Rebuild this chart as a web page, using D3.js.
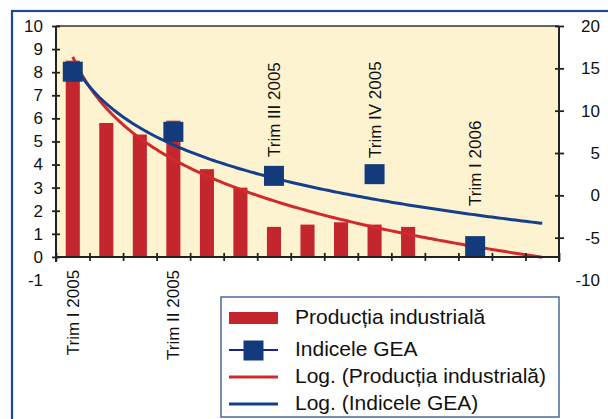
<!DOCTYPE html>
<html>
<head>
<meta charset="utf-8">
<script src="https://cdn.jsdelivr.net/npm/d3@7"></script>
<style>
  html, body { margin: 0; padding: 0; background: #fff; }
  svg { display: block; font-family: "Liberation Sans", Arial, sans-serif; }
  text { font-family: "Liberation Sans", Arial, sans-serif; }
</style>
</head>
<body>
<svg id="chart" width="608" height="419"></svg>
<script>
// ---- data ----
const categories = ["Trim I 2005", "", "", "Trim II 2005", "", "", "Trim III 2005", "", "",
                    "Trim IV 2005", "", "", "Trim I 2006", "", ""];
const productie = [8.5, 5.8, 5.3, 5.9, 3.8, 3.0, 1.3, 1.4, 1.5, 1.4, 1.3, null, null, null, null];
const gea = [14.6, null, null, 7.5, null, null, 2.3, null, null, 2.5, null, null, -6.0, null, null];
const leftTicks = [-1, 0, 1, 2, 3, 4, 5, 6, 7, 8, 9, 10];
const rightTicks = [-10, -5, 0, 5, 10, 15, 20];
const legendLabels = ["Producția industrială", "Indicele GEA", "Log. (Producția industrială)", "Log. (Indicele GEA)"];

// ---- colors ----
const cRed = "#c4262d", cRedLine = "#d02a2c", cNavy = "#133a7b", cBlueLine = "#143f8c";
const cCream = "#fef3d0", cFrame = "#1c4a8e";
const FONT = "'Liberation Sans', Arial, sans-serif";

const svg = d3.select("#chart");
const L = 56, R = 559, T = 26, B = 257;

// outer frame
svg.append("rect").attr("x", 12).attr("y", 11).attr("width", 620).attr("height", 430)
  .attr("fill", "none").attr("stroke", cFrame).attr("stroke-width", 2.2);

// scales
const x = d3.scaleBand().domain(d3.range(categories.length)).range([L, R]).padding(0);
const xb = d3.scaleLinear().domain([0, categories.length]).range([L, R]);
const yL = d3.scaleLinear().domain([-1, 10]).range([280, T]);
const yR = d3.scaleLinear().domain([-10, 20]).range([280, T]);
const cx = i => x(i) + x.bandwidth() / 2;
const fmt = d => String(d);

// plot background
svg.append("rect").attr("x", L).attr("y", T).attr("width", R - L).attr("height", yL(0) - T)
  .attr("fill", cCream);
svg.append("line").attr("x1", L).attr("x2", R).attr("y1", T).attr("y2", T)
  .attr("stroke", "#333").attr("stroke-width", 1.5);

// bars
const bw = x.bandwidth() * 0.42;
svg.append("g").selectAll("rect").data(productie.map((v, i) => ({v, i})).filter(d => d.v != null))
  .join("rect")
  .attr("x", d => cx(d.i) - bw / 2).attr("width", bw)
  .attr("y", d => yL(d.v)).attr("height", d => yL(0) - yL(d.v))
  .attr("fill", cRed);

// logarithmic trendlines (least squares y = a + b ln x, x = 1..n)
function logFit(vals) {
  const pts = vals.map((v, i) => [Math.log(i + 1), v]).filter(p => p[1] != null);
  const mx = d3.mean(pts, p => p[0]), my = d3.mean(pts, p => p[1]);
  const sxy = d3.sum(pts, p => (p[0] - mx) * (p[1] - my));
  const sxx = d3.sum(pts, p => (p[0] - mx) ** 2);
  const b = sxy / sxx, a = my - b * mx;
  return t => a + b * Math.log(t);
}
const fProd = logFit(productie), fGea = logFit(gea);
const tSamples = d3.range(1, categories.length + 0.001, 0.1);
const xt = t => cx(0) + (t - 1) * x.step();
svg.append("path").datum(tSamples)
  .attr("d", d3.line().x(t => xt(t)).y(t => yL(fProd(t))))
  .attr("fill", "none").attr("stroke", cRedLine).attr("stroke-width", 3);
svg.append("path").datum(tSamples)
  .attr("d", d3.line().x(t => xt(t)).y(t => yR(fGea(t))))
  .attr("fill", "none").attr("stroke", cBlueLine).attr("stroke-width", 3);

// GEA series (line with gaps + square markers)
svg.append("path").datum(gea.map((v, i) => ({v, i})))
  .attr("d", d3.line().defined(d => d.v != null).x(d => cx(d.i)).y(d => yR(d.v)))
  .attr("fill", "none").attr("stroke", cNavy).attr("stroke-width", 2);
const ms = 20;
svg.append("g").selectAll("rect").data(gea.map((v, i) => ({v, i})).filter(d => d.v != null))
  .join("rect")
  .attr("x", d => cx(d.i) - ms / 2).attr("y", d => yR(d.v) - ms / 2)
  .attr("width", ms).attr("height", ms).attr("fill", cNavy);

// x axis (ticks at category boundaries, crossing)
const gx = svg.append("g").attr("transform", `translate(0,${yL(0)})`)
  .call(d3.axisBottom(xb).tickValues(d3.range(0, categories.length + 1)).tickFormat("").tickSizeOuter(0));
gx.select(".domain").remove();
gx.selectAll(".tick line").attr("y1", -4).attr("y2", 4).attr("stroke", "#222").attr("stroke-width", 1.8);
svg.append("line").attr("x1", L).attr("x2", R).attr("y1", yL(0)).attr("y2", yL(0))
  .attr("stroke", "#222").attr("stroke-width", 2);

// left axis
const gl = svg.append("g").attr("transform", `translate(${L},0)`)
  .call(d3.axisLeft(yL).tickValues(leftTicks).tickFormat(fmt).tickSize(4).tickPadding(9));
gl.select(".domain").remove();
gl.selectAll(".tick line").attr("x1", 4).attr("x2", -4).attr("stroke", "#222").attr("stroke-width", 1.8)
  .filter(d => d < 0).remove();
gl.selectAll(".tick text").attr("font-size", 17).attr("fill", "#111").attr("font-family", FONT);
svg.append("line").attr("x1", L).attr("x2", L).attr("y1", T).attr("y2", yL(0) + 5)
  .attr("stroke", "#222").attr("stroke-width", 2);

// right axis
const gr = svg.append("g").attr("transform", `translate(${R},0)`)
  .call(d3.axisRight(yR).tickValues(rightTicks).tickFormat(fmt).tickSize(4).tickPadding(9));
gr.select(".domain").remove();
gr.selectAll(".tick line").attr("x1", -4).attr("x2", 5).attr("stroke", "#222").attr("stroke-width", 1.8)
  .filter(d => d < -7.5).remove();
gr.selectAll(".tick text").attr("font-size", 17).attr("fill", "#111")
  .attr("text-anchor", "end").attr("x", 41).attr("font-family", FONT);
svg.append("line").attr("x1", R).attr("x2", R).attr("y1", T).attr("y2", yL(0) + 5)
  .attr("stroke", "#222").attr("stroke-width", 2);

// category labels (vertical)
const below = [0, 3];
const inside = {6: 157, 9: 158, 12: 206};
categories.forEach((c, i) => {
  if (!c) return;
  const t = svg.append("text").attr("font-size", 17).attr("font-family", FONT).attr("fill", "#111").text(c);
  if (below.includes(i)) {
    t.attr("text-anchor", "end").attr("transform", `translate(${cx(i) + 6},${yL(0) + 13}) rotate(-90)`);
  } else if (inside[i] != null) {
    t.attr("text-anchor", "start").attr("transform", `translate(${cx(i) + 6},${inside[i]}) rotate(-90)`);
  }
});

// legend
const lg = svg.append("g");
lg.append("rect").attr("x", 221).attr("y", 297).attr("width", 338).attr("height", 120)
  .attr("fill", "#fff").attr("stroke", "#4a6a9e").attr("stroke-width", 1.5);
const sx1 = 229, sx2 = 278, tx = 295;
const rowsY = [318, 350, 377, 404];
lg.append("rect").attr("x", sx1).attr("y", rowsY[0] - 6).attr("width", sx2 - sx1).attr("height", 12).attr("fill", cRed);
lg.append("line").attr("x1", sx1).attr("x2", sx2).attr("y1", rowsY[1]).attr("y2", rowsY[1])
  .attr("stroke", "#1a237e").attr("stroke-width", 2);
lg.append("rect").attr("x", (sx1 + sx2) / 2 - 10).attr("y", rowsY[1] - 9.5).attr("width", 20).attr("height", 20).attr("fill", cNavy);
lg.append("line").attr("x1", sx1).attr("x2", sx2).attr("y1", rowsY[2]).attr("y2", rowsY[2])
  .attr("stroke", cRedLine).attr("stroke-width", 3);
lg.append("line").attr("x1", sx1).attr("x2", sx2).attr("y1", rowsY[3]).attr("y2", rowsY[3])
  .attr("stroke", cBlueLine).attr("stroke-width", 3);
const textBase = [324, 356, 383, 410];
legendLabels.forEach((s, k) => {
  lg.append("text").attr("x", tx).attr("y", textBase[k]).attr("font-size", 21)
    .attr("font-family", FONT).attr("fill", "#111").text(s);
});
</script>
</body>
</html>
